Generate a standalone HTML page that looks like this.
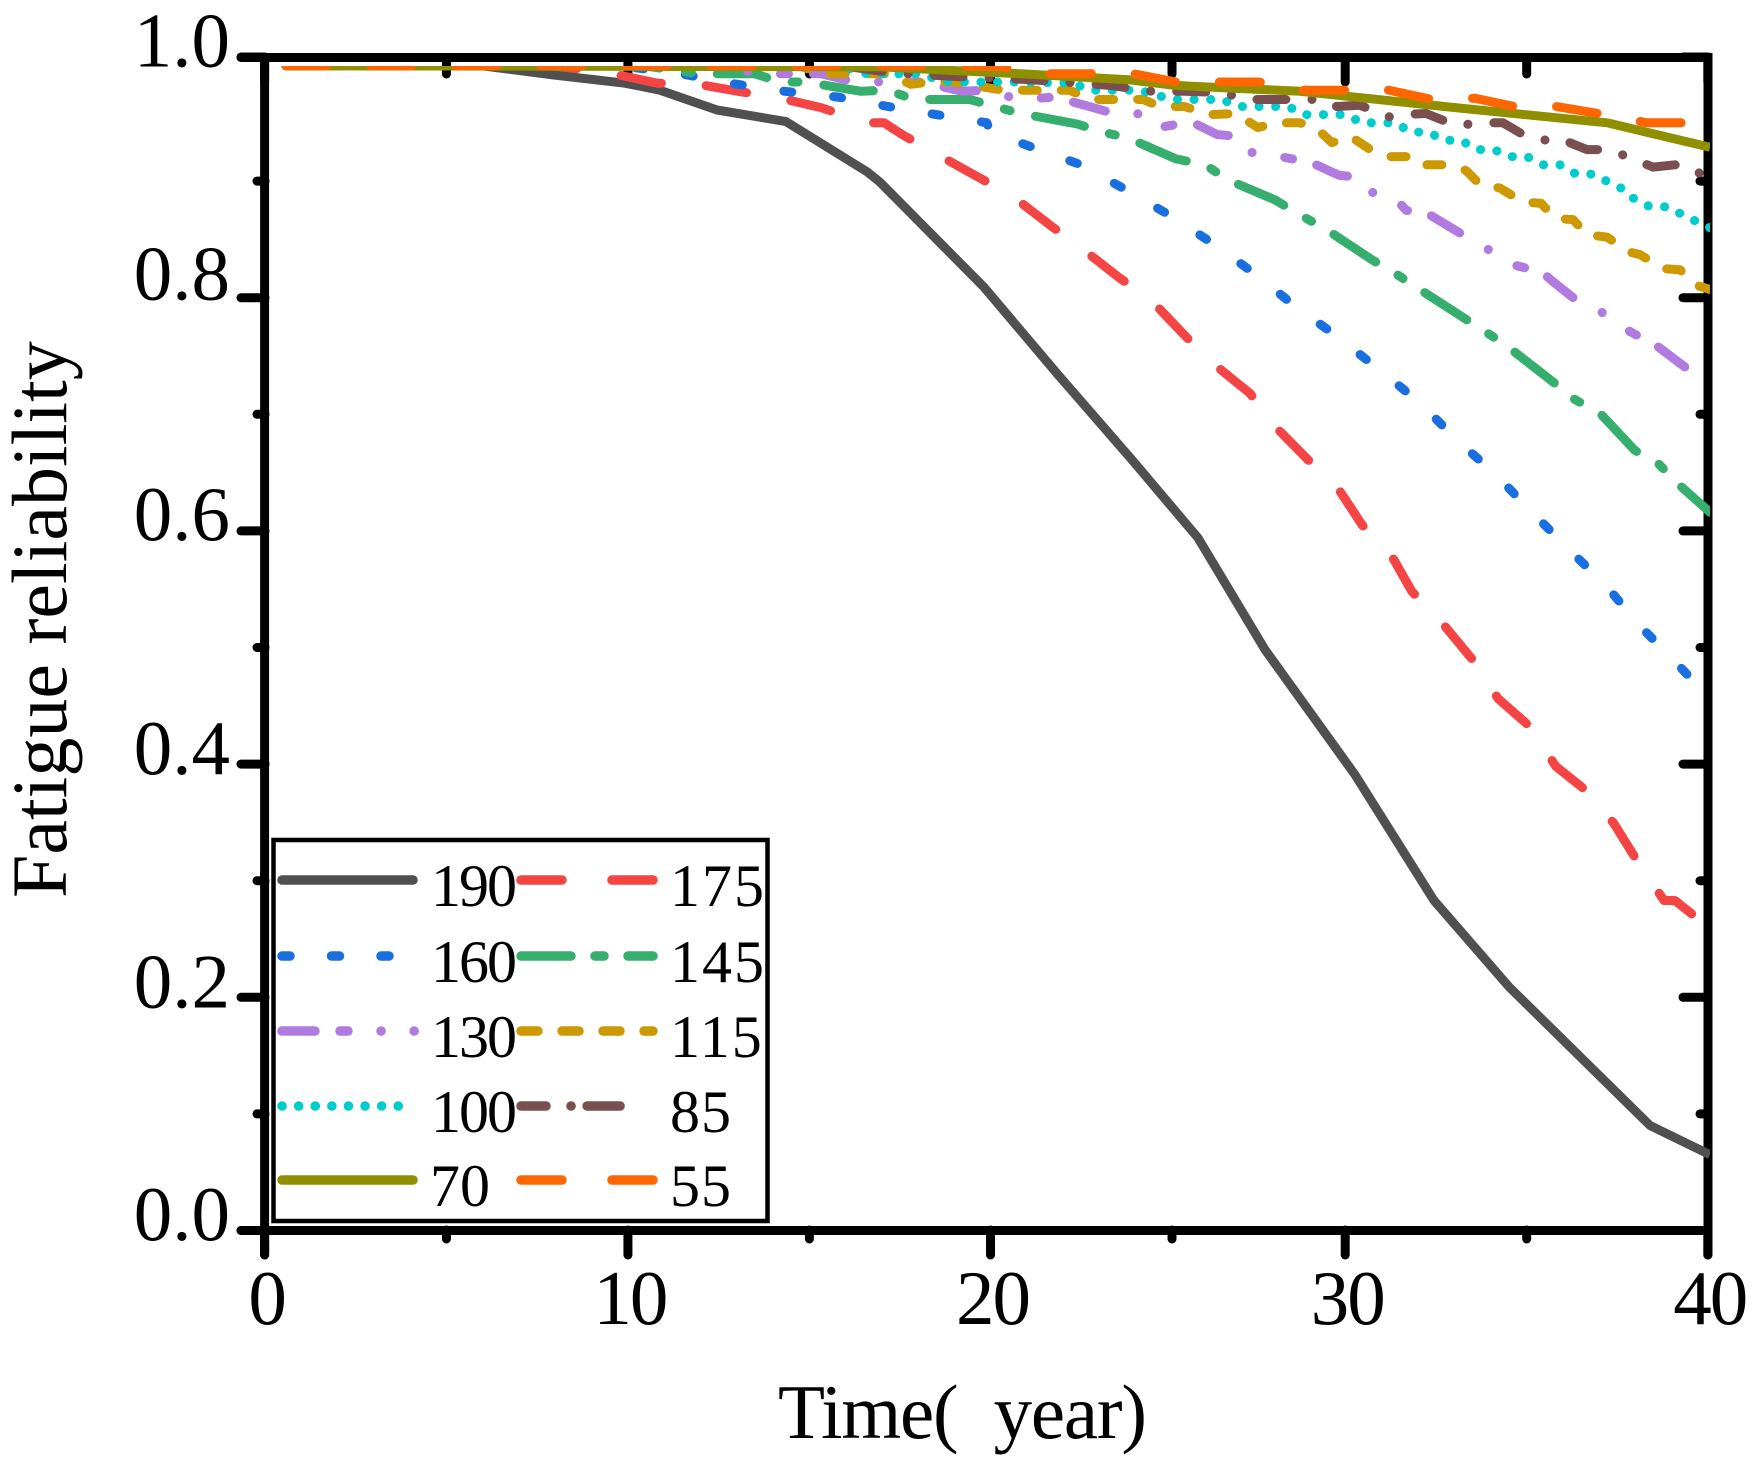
<!DOCTYPE html>
<html lang="en">
<head>
<meta charset="utf-8">
<title>Fatigue reliability over time</title>
<style>
html,body{margin:0;padding:0;background:#fff;}
svg{display:block;}
text{font-family:"Liberation Serif",serif;fill:#000;}
</style>
</head>
<body>
<svg id="chart" width="1764" height="1473" viewBox="0 0 1764 1473" xmlns="http://www.w3.org/2000/svg">
  <defs>
    <clipPath id="plot-clip"><rect x="280" y="66" width="1430" height="1160"/></clipPath>
  </defs>
  <rect x="0" y="0" width="1764" height="1473" fill="#fff"/>
  <g id="ticks"></g>
  <g id="frame" stroke="#000" stroke-width="9" fill="none">
    <line x1="241" y1="57.5" x2="255" y2="57.5" stroke-linecap="round"/>
    <line x1="245" y1="57.5" x2="1712.5" y2="57.5" stroke-linecap="butt"/>
    <line x1="241" y1="1230.5" x2="1708" y2="1230.5" stroke-linecap="round"/>
    <line x1="264.6" y1="53" x2="264.6" y2="1255" stroke-linecap="butt"/>
    <line x1="264.6" y1="1240" x2="264.6" y2="1255" stroke-linecap="round"/>
    <line x1="1708" y1="53" x2="1708" y2="1255" stroke-linecap="butt"/>
    <line x1="1708" y1="1240" x2="1708" y2="1255" stroke-linecap="round"/>
  </g>
  <g id="series" clip-path="url(#plot-clip)"></g>
  <g id="tick-labels"></g>
  <text x="778" y="1438" font-size="77" textLength="369" lengthAdjust="spacing" style="white-space:pre">Time(  year)</text>
  <text transform="translate(66,898) rotate(-90)" font-size="78">Fatigue reliability</text>
  <g id="legend">
    <rect x="273.5" y="840" width="494" height="381" fill="#fff" stroke="#000" stroke-width="4.5"/>
  </g>
</svg>
<script>
// Chart data
const seriesLabels = ['190','175','160','145','130','115','100','85','70','55'];

const times190 = [0.59,6,8.02,9.99,10.96,12.54,14.45,16.7,17.06,19.94,21.99,24.01,25.87,27.73,30.22,32.41,34.49,38.4,40.06];
const values190 = [0.999,0.999,0.991,0.984,0.978,0.961,0.951,0.908,0.899,0.809,0.734,0.662,0.594,0.498,0.391,0.283,0.209,0.090,0.065];

const times175 = [0.59,7.99,9.52,10.88,11.85,13.12,14.31,15.42,16.70,17.17,17.67,18.64,19.80,20.69,21.82,22.54,23.65,24.63,25.49,26.23,27.31,28.06,28.92,29.72,30.42,31.25,31.80,32.61,33.47,34.19,35.04,35.79,36.68,37.40,38.04,38.79,39.09,40.06];
const values175 = [0.999,0.999,0.993,0.984,0.984,0.977,0.971,0.963,0.950,0.950,0.940,0.923,0.903,0.888,0.861,0.845,0.818,0.796,0.768,0.745,0.718,0.688,0.661,0.638,0.605,0.578,0.548,0.522,0.490,0.456,0.433,0.398,0.376,0.349,0.317,0.283,0.283,0.259];

const times160 = [0.59,9.85,11.54,12.90,14.42,15.89,17.28,18.61,20.02,20.11,21.38,22.63,23.90,25.07,26.31,27.42,28.59,29.72,30.86,32.02,33.04,34.07,35.10,36.12,37.18,38.07,39.09,40.06];
const values160 = [0.999,0.999,0.992,0.984,0.977,0.972,0.964,0.957,0.950,0.942,0.928,0.914,0.892,0.871,0.846,0.821,0.792,0.767,0.739,0.710,0.678,0.650,0.617,0.585,0.553,0.520,0.488,0.456];

const times145 = [0.59,10.5,12.07,13.59,14.31,15.0,16.53,17.28,18.0,19.55,20.24,20.96,22.52,23.24,23.93,25.26,26.07,26.70,28.0,28.70,29.45,30.72,31.33,31.97,33.22,33.83,34.46,35.74,36.24,37.01,37.98,38.65,39.26,40.06];
const values145 = [0.999,0.999,0.992,0.992,0.985,0.985,0.977,0.978,0.970,0.970,0.964,0.958,0.949,0.942,0.937,0.919,0.914,0.901,0.884,0.871,0.858,0.832,0.821,0.808,0.783,0.771,0.758,0.727,0.714,0.701,0.669,0.657,0.638,0.616];

const times130 = [0.59,12.62,13.70,15.42,16.36,17.36,18.23,19.33,20.02,20.91,21.91,22.96,23.65,24.40,24.79,25.34,25.81,26.40,27.06,27.28,28.14,29.0,29.78,30.42,30.72,31.31,31.64,32.19,33.21,33.83,34.63,35.40,35.74,36.43,37.04,37.84,38.62,39.39,40.06];
const values130 = [0.999,0.999,0.992,0.992,0.985,0.985,0.985,0.977,0.978,0.970,0.972,0.963,0.957,0.958,0.946,0.949,0.949,0.940,0.938,0.925,0.921,0.916,0.905,0.903,0.890,0.886,0.875,0.873,0.854,0.843,0.828,0.822,0.813,0.796,0.788,0.771,0.758,0.740,0.728];

const times115 = [0.59,14.83,15.42,17.28,17.91,18.44,19.08,20.46,22.29,22.98,24.35,24.82,25.49,26.21,26.90,27.53,28.03,28.70,29.20,29.58,30.11,30.75,31.22,31.88,32.13,32.80,33.30,33.69,34.24,34.88,35.38,35.77,36.27,36.65,37.21,37.84,38.12,38.76,39.23,39.65,40.06];
const values115 = [0.999,0.999,0.992,0.992,0.983,0.985,0.985,0.978,0.978,0.970,0.970,0.964,0.964,0.957,0.958,0.946,0.950,0.950,0.944,0.933,0.938,0.925,0.921,0.921,0.914,0.914,0.909,0.897,0.894,0.882,0.881,0.868,0.867,0.854,0.852,0.839,0.837,0.825,0.824,0.811,0.807];

const times100 = [0.59,15.95,16.70,18.08,19.0,20.80,22.41,22.88,24.24,25.15,26.53,26.98,28.37,28.81,29.97,30.42,31.33,31.78,32.25,32.69,33.16,33.60,34.07,34.52,34.99,35.43,35.90,36.35,36.82,37.26,37.73,37.95,38.40,38.87,39.31,39.78,40.06];
const values100 = [0.999,0.999,0.992,0.992,0.985,0.985,0.984,0.978,0.978,0.970,0.970,0.964,0.964,0.957,0.957,0.950,0.950,0.942,0.942,0.935,0.935,0.927,0.927,0.921,0.921,0.914,0.914,0.906,0.906,0.899,0.892,0.885,0.878,0.878,0.871,0.864,0.860];

const times85 = [0.59,16,17.36,19.02,19.64,21.27,23.46,24.59,25.49,26.51,27.28,29.31,29.72,30.36,31.19,31.58,32.19,32.99,34.01,34.32,34.82,35.43,35.85,36.65,37.26,37.68,38.48,39.09,39.48,40.06];
const values85 = [0.999,0.999,0.993,0.990,0.989,0.987,0.982,0.977,0.977,0.976,0.970,0.970,0.964,0.965,0.955,0.957,0.958,0.948,0.950,0.950,0.941,0.935,0.937,0.927,0.927,0.922,0.912,0.914,0.907,0.907];

const times70 = [0.59,17.07,18.94,20.96,23.93,25.26,28.70,32.69,37.21,40.06];
const values70 = [0.999,0.998,0.995,0.992,0.987,0.982,0.977,0.964,0.950,0.929];

const times55 = [0.59,19,20.47,21.63,22.77,23.93,25.26,27.56,28.70,29.86,31.0,32.36,33.55,34.63,35.79,37.15,38.31,40.06];
const values55 = [0.999,0.999,0.998,0.992,0.992,0.993,0.985,0.985,0.978,0.978,0.979,0.970,0.971,0.964,0.964,0.957,0.950,0.950];

const seriesTimes = [times190,times175,times160,times145,times130,times115,times100,times85,times70,times55];
const seriesValues = [values190,values175,values160,values145,values130,values115,values100,values85,values70,values55];

const xMajorTickValues = [0,10.07,20.12,29.95,40];
const xMajorTickLabels = ['0','10','20','30','40'];
const xMinorTickValues = [5.04,15.1,25.15,34.98];
const yMajorTickValues = [0,0.2,0.4,0.6,0.8,1.0064];
const yMajorTickLabels = ['0.0','0.2','0.4','0.6','0.8','1.0'];
const yMinorTickValues = [0.1,0.3,0.5,0.7,0.9];

// Styling
const seriesColors = ['#505050','#f44444','#196fe0','#36ae6e','#b07adf','#cc9900','#00cccc','#7a4f4f','#8f8f00','#ff6600'];
const seriesDashes = ['none','41 45','8 42','50 26 6 26','33 33 0.1 33 8 25','15 24','0.1 16.5','29 26 0.1 26','none','41 44'];
const seriesDashOffsets = [0,8,0,0,0,0,0,0,0,0];
const legendDashes = ['none','41 50','8 41.5','50 24 9 24','33 25 8 33 0.1 33 0.1 33','17 24','0.1 16.5','25 25 0.1 16 33 16 0.1 16','none','41 50'];
const legendRowY = [880,956,1031,1106,1180];
const legendTextSpacing = [-2,2,-2,2,-2,2,-2,1,0,1];
const yLabelOffsets = [9.5,10,10,9,2,9.5];

const SVGNS = 'http://www.w3.org/2000/svg';
const xScale = t => 264.6 + 36.08 * t;
const yScale = v => 1230.5 - 1166 * v;
const ticksGroup = document.getElementById('ticks');
const seriesGroup = document.getElementById('series');
const labelsGroup = document.getElementById('tick-labels');
const legendGroup = document.getElementById('legend');

function makeLine(parent, x1, y1, x2, y2) {
  const el = document.createElementNS(SVGNS, 'line');
  el.setAttribute('x1', x1);
  el.setAttribute('y1', y1);
  el.setAttribute('x2', x2);
  el.setAttribute('y2', y2);
  el.setAttribute('stroke', '#000');
  el.setAttribute('stroke-width', '9');
  el.setAttribute('stroke-linecap', 'round');
  parent.appendChild(el);
  return el;
}
function makeText(parent, content, x, y, size, anchor) {
  const el = document.createElementNS(SVGNS, 'text');
  el.setAttribute('x', x);
  el.setAttribute('y', y);
  el.setAttribute('font-size', size);
  el.setAttribute('text-anchor', anchor);
  el.textContent = content;
  parent.appendChild(el);
  return el;
}

// X ticks: bottom and top sides
xMajorTickValues.forEach((t, i) => {
  const x = xScale(t);
  const bottom = makeLine(ticksGroup, x, 1230, x, 1255);
  
  
  const top = makeLine(ticksGroup, x, 58, x, 82);
  
  
  const label = makeText(labelsGroup, xMajorTickLabels[i], x + 2, 1324, 77, 'middle');
  label.setAttribute('letter-spacing', '-2');
  
  
});
xMinorTickValues.forEach(t => {
  const x = xScale(t);
  const bottom = makeLine(ticksGroup, x, 1230, x, 1239);
  
  
  const top = makeLine(ticksGroup, x, 58, x, 74);
  
  
});

// Y ticks: left and right sides
yMajorTickValues.forEach((v, i) => {
  const y = yScale(v);
  const left = makeLine(ticksGroup, 241, y, 265, y);
  
  
  const right = makeLine(ticksGroup, 1683, y, 1708, y);
  
  
  const label = makeText(labelsGroup, yMajorTickLabels[i], 230, y + yLabelOffsets[i], 77, 'end');
  
  
});
yMinorTickValues.forEach(v => {
  const y = yScale(v);
  const left = makeLine(ticksGroup, 257, y, 265, y);
  
  
  const right = makeLine(ticksGroup, 1700, y, 1708, y);
  
  
});

// Series lines (drawn above the frame so they overlap the right axis)
seriesLabels.forEach((name, i) => {
  const times = seriesTimes[i];
  const values = seriesValues[i];
  const d = times.map((t, k) => (k ? 'L' : 'M') + xScale(t).toFixed(1) + ' ' + yScale(values[k]).toFixed(1)).join(' ');
  const path = document.createElementNS(SVGNS, 'path');
  path.setAttribute('d', d);
  path.setAttribute('fill', 'none');
  path.setAttribute('stroke', seriesColors[i]);
  path.setAttribute('stroke-width', '9');
  path.setAttribute('stroke-linejoin', 'round');
  path.setAttribute('stroke-linecap', seriesDashes[i] === 'none' ? 'butt' : 'round');
  if (seriesDashes[i] !== 'none') path.setAttribute('stroke-dasharray', seriesDashes[i]);
  path.setAttribute('stroke-dashoffset', seriesDashOffsets[i]);
  
  
  path.setAttribute('aria-label', 'series ' + name);
  seriesGroup.appendChild(path);
});

// Legend entries
seriesLabels.forEach((name, i) => {
  const col = i % 2;
  const row = Math.floor(i / 2);
  const y = legendRowY[row];
  const x1 = col ? 521 : 282;
  let x2 = col ? 653 : 413;
  if (name === '100') x2 = 400;
  if (name === '130') x2 = 415;
  if (name === '85') x2 = 636;
  const swatch = makeLine(legendGroup, x1, y, x2, y);
  swatch.setAttribute('stroke', seriesColors[i]);
  swatch.setAttribute('stroke-width', '9.5');
  if (legendDashes[i] !== 'none') swatch.setAttribute('stroke-dasharray', legendDashes[i]);
  
  
  const tx = col ? 670 : (name.length === 2 ? 430 : 431);
  const label = makeText(legendGroup, name, tx, y + 26, 60, 'start');
  label.setAttribute('letter-spacing', legendTextSpacing[i]);
  
  
});
</script>
</body>
</html>
